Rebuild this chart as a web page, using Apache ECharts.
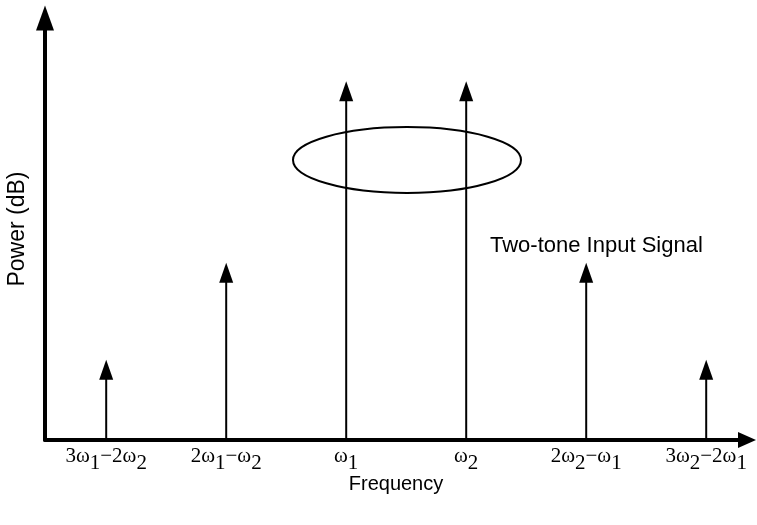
<!DOCTYPE html>
<html>
<head>
<meta charset="utf-8">
<script src="https://cdn.jsdelivr.net/npm/echarts@6/dist/echarts.min.js"></script>
<style>html,body{margin:0;padding:0;background:#fff}#c{width:757px;height:525px}</style>
</head>
<body>
<div id="c"></div>
<script>
// Spectral components (position index on frequency axis, relative power)
const positions = [1, 2, 3, 4, 5, 6];
const powers = [19, 42, 85, 85, 42, 19];
const tickLabels = [
  '3ω{s|1}−2ω{s|2}',
  '2ω{s|1}−ω{s|2}',
  'ω{s|1}',
  'ω{s|2}',
  '2ω{s|2}−ω{s|1}',
  '3ω{s|2}−2ω{s|1}'
];
const annotation = 'Two-tone Input Signal';

const chart = echarts.init(document.getElementById('c'));
const data = positions.map((p, i) => [p, powers[i]]);

chart.setOption({
  animation: false,
  backgroundColor: '#fff',
  grid: { left: 45, right: 10, top: 18, bottom: 85, outerBoundsMode: 'none', containLabel: false },
  xAxis: {
    type: 'value', min: 0.49, max: 6.34,
    name: 'Frequency', nameLocation: 'middle', nameGap: 34, nameMoveOverlap: false,
    nameTextStyle: { fontFamily: 'Liberation Sans', fontSize: 20, color: '#000' },
    axisLine: { lineStyle: { color: '#000', width: 4 }, symbol: ['none', 'triangle'], symbolSize: [16, 18] },
    axisTick: { show: false },
    splitLine: { show: false },
    axisLabel: {
      customValues: positions,
      margin: -2,
      formatter: v => tickLabels[positions.indexOf(v)] || '',
      fontFamily: 'Liberation Serif', fontSize: 21, color: '#000',
      rich: { s: { fontFamily: 'Liberation Serif', fontSize: 21, color: '#000', padding: [15, 0, 0, 0] } }
    }
  },
  yAxis: {
    type: 'value', min: 0, max: 100,
    name: 'Power (dB)', nameLocation: 'middle', nameGap: 16,
    nameTextStyle: { fontFamily: 'Liberation Sans', fontSize: 23, color: '#000' },
    axisLine: { show: true, lineStyle: { color: '#000', width: 4 }, symbol: ['none', 'triangle'], symbolSize: [18, 25] },
    axisTick: { show: false },
    axisLabel: { show: false },
    splitLine: { show: false }
  },
  graphic: [
    { type: 'ellipse', shape: { cx: 407, cy: 160, rx: 114, ry: 33 }, style: { fill: 'none', stroke: '#000', lineWidth: 2 }, z: 10 },
    { type: 'text', left: 490, top: 235, style: { text: annotation, fontFamily: 'Liberation Sans', fontSize: 22, fill: '#000' } }
  ],
  series: [{
    type: 'custom',
    data: data,
    renderItem: function (params, api) {
      const x = api.value(0), y = api.value(1);
      const base = api.coord([x, 0]);
      const top = api.coord([x, y]);
      return {
        type: 'group',
        children: [
          { type: 'line', shape: { x1: base[0], y1: base[1], x2: top[0], y2: top[1] + 10 }, style: { stroke: '#000', lineWidth: 2 } },
          { type: 'polygon', shape: { points: [[top[0], top[1]], [top[0] - 7, top[1] + 20], [top[0] + 7, top[1] + 20]] }, style: { fill: '#000' } }
        ]
      };
    }
  }]
});
</script>
</body>
</html>
